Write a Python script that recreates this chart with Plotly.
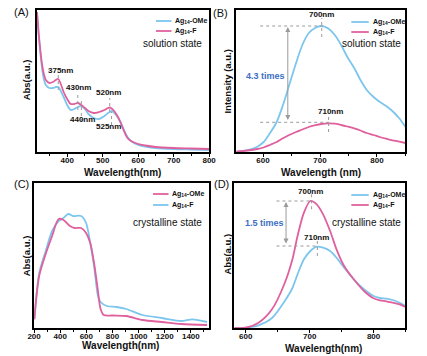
import plotly.graph_objects as go

# ---------------- data ----------------
# Panel A: solution-state absorption
a_wl = [315, 320, 325, 330, 335, 340, 350, 360, 368, 375, 382, 390, 400, 410, 420, 430, 440, 450, 460, 475,
        490, 505, 515, 520, 525, 530, 540, 550, 560, 570, 580, 600, 620, 650, 700, 750, 800]
a_ome = [140, 116, 97, 82, 72, 67, 64, 64, 65, 65, 61, 55, 47, 42, 43, 45, 46, 43, 38, 34,
         33, 36, 39, 40, 41, 40, 36, 30, 22, 15, 11, 7, 5.5, 4, 3, 2.5, 2]
a_f = [140, 118, 100, 86, 77, 72, 69, 70, 72, 73, 68, 60, 53, 48, 48, 49, 47, 44, 41, 39,
       40, 42, 44, 44.5, 43.5, 42, 37, 30, 21, 14, 11, 8, 6.5, 5, 4, 3.5, 3]

# Panel B: solution-state emission
b_wl = [553, 573, 590, 601, 612, 624, 635, 646, 658, 669, 680, 692, 702, 714, 726, 737, 748, 760, 771, 782,
        794, 805, 816, 827, 839, 850]
b_ome = [0.3, 2, 5.3, 10, 18.7, 30, 47, 67, 89, 107, 118.7, 124.3, 126, 123.7, 117, 107, 95, 84, 72, 62,
         55, 50, 46, 41, 33.7, 25]
b_f = [0.3, 1.5, 3, 4.5, 7, 10, 13.7, 17, 20, 22.5, 25, 26.8, 28, 28.7, 28.3, 27, 25.5, 23.7, 21.5, 19,
       17, 15, 13.3, 11.7, 10.3, 9]

# Panel C: crystalline-state absorption
c_wl_ome = [202, 239, 289, 338, 388, 425, 474, 511, 560, 598, 630, 659, 684, 709, 733, 800, 906, 1030, 1178, 1326, 1524]
c_ome = [8.7, 52, 74, 92, 109, 108, 102, 100, 100, 95, 85, 65, 42, 19, 13, 12.5, 12, 8, 6, 4, 3]
c_wl_f = [202, 239, 289, 338, 388, 425, 462, 499, 560, 598, 630, 659, 689, 709, 757, 831, 906, 1030, 1178, 1326, 1412, 1524]
c_f = [8.7, 55, 77, 97, 107, 110, 114, 112, 112, 105, 85, 62, 32, 26, 22, 21, 19, 13, 10, 7, 8.7, 6]

# Panel D: crystalline-state emission
d_wl = [582, 600, 620, 641, 661, 673, 681, 691, 701, 711, 721, 732, 742, 754, 769, 785, 800, 810, 820, 830, 841, 850]
d_ome = [0, 0.3, 2.7, 10, 27, 40, 53.7, 68.7, 77, 81.3, 80.3, 77, 70.3, 60.3, 48.7, 38.7, 32, 30, 29.3, 28, 25.3, 22]
d_f = [0, 0.3, 5.3, 18.7, 45, 68.7, 92, 115.3, 127, 123.7, 113.7, 97, 78.7, 62, 48.7, 37, 29.7, 27.7, 26.7, 25.3, 23.7, 21]

a_ticks = [400, 500, 600, 700, 800]
b_ticks = [600, 700, 800]
c_ticks = [200, 400, 600, 800, 1000, 1200, 1400]
d_ticks = [600, 700, 800]

BLUE = "#7cc6ee"
PINK = "#e0609e"
GREY = "#9a9a9a"
TXT_BLUE = "#3d6fc2"
FONT = "Liberation Sans"

W, H = 427, 356


def px(x):
    return x / W


def py(y):
    return 1 - y / H


fig = go.Figure()


def line(x, y, color, xa, ya):
    fig.add_trace(go.Scatter(x=x, y=y, mode="lines", line=dict(color=color, width=1.8, shape="spline", smoothing=0.8),
                             xaxis=xa, yaxis=ya, showlegend=False, hoverinfo="skip"))


line(a_wl, a_ome, BLUE, "x", "y")
line(a_wl, a_f, PINK, "x", "y")
line(b_wl, b_ome, BLUE, "x2", "y2")
line(b_wl, b_f, PINK, "x2", "y2")
line(c_wl_f, c_f, BLUE, "x3", "y3")
line(c_wl_ome, c_ome, PINK, "x3", "y3")
line(d_wl, d_ome, BLUE, "x4", "y4")
line(d_wl, d_f, PINK, "x4", "y4")

ax_common = dict(showline=True, linecolor="black", linewidth=1.5, mirror=True, showgrid=False, zeroline=False,
                 ticks="outside", ticklen=3, tickwidth=1, tickcolor="black", ticklabelstandoff=-3,
                 tickfont=dict(family=FONT, size=8, color="#111", weight="bold"))
ay_common = dict(showline=True, linecolor="black", linewidth=1.5, mirror=True, showgrid=False, zeroline=False,
                 showticklabels=False, ticks="")

fig.update_layout(
    width=W, height=H, margin=dict(l=0, r=0, t=0, b=0),
    paper_bgcolor="white", plot_bgcolor="white", showlegend=False,
    xaxis=dict(domain=[px(31), px(209)], range=[315, 800], tickvals=a_ticks, anchor="y",
               minor=dict(dtick=50, ticklen=2, ticks="outside", tickcolor="black"), **ax_common),
    yaxis=dict(domain=[py(152), py(10)], range=[0, 142], anchor="x", **ay_common),
    xaxis2=dict(domain=[px(237), px(412)], range=[553, 850], tickvals=b_ticks, anchor="y2",
                minor=dict(dtick=50, ticklen=2, ticks="outside", tickcolor="black"), **ax_common),
    yaxis2=dict(domain=[py(152), py(10)], range=[0, 142], anchor="x2", **ay_common),
    xaxis3=dict(domain=[px(28), px(209)], range=[200, 1540], tickvals=c_ticks, anchor="y3",
                minor=dict(dtick=100, ticklen=2, ticks="outside", tickcolor="black"), **ax_common),
    yaxis3=dict(domain=[py(328), py(183)], range=[0, 145], anchor="x3", **ay_common),
    xaxis4=dict(domain=[px(235), px(412)], range=[582, 850], tickvals=d_ticks, anchor="y4",
                minor=dict(dtick=50, ticklen=2, ticks="outside", tickcolor="black"), **ax_common),
    yaxis4=dict(domain=[py(328), py(183)], range=[0, 145], anchor="x4", **ay_common),
)

shapes = []
annos = []


def ptext(text, x, y, size, bold=False, color="#111", angle=0, xanchor="center"):
    annos.append(dict(text=text, x=px(x), y=py(y), xref="paper", yref="paper", showarrow=False,
                      xanchor=xanchor, yanchor="middle", textangle=angle,
                      font=dict(family=FONT, size=size, color=color, weight="bold" if bold else "normal")))


def dtext(text, x, y, xr, yr, size=8, color="#111", bold=True):
    annos.append(dict(text=text, x=x, y=y, xref=xr, yref=yr, showarrow=False, xanchor="center", yanchor="middle",
                      font=dict(family=FONT, size=size, color=color, weight="bold" if bold else "normal")))


def dash(x0, y0, x1, y1, xr, yr):
    shapes.append(dict(type="line", x0=x0, y0=y0, x1=x1, y1=y1, xref=xr, yref=yr,
                       line=dict(color=GREY, width=1, dash="dot")))


def legend(x0, x1, y1, y2, c1, c2, t1, t2):
    for y, c, t in ((y1, c1, t1), (y2, c2, t2)):
        shapes.append(dict(type="line", x0=px(x0), x1=px(x1), y0=py(y), y1=py(y), xref="paper", yref="paper",
                           line=dict(color=c, width=1.8)))
        ptext(t, x1 + 2, y, 7, bold=True, xanchor="left")


OME = "Ag<sub>14</sub>-OMe"
FL = "Ag<sub>14</sub>-F"

# panel labels
ptext("(A)", 14.5, 12, 11)
ptext("(B)", 220.5, 13, 11)
ptext("(C)", 15, 184, 11)
ptext("(D)", 221.5, 184, 11)

# axis titles
ptext("Wavelength(nm)", 119, 172, 10, bold=True)
ptext("Wavelength (nm)", 325, 172, 10, bold=True)
ptext("Wavelength(nm)", 117, 345, 10, bold=True)
ptext("Wavelength(nm)", 327, 348, 10, bold=True)
ptext("Abs(a.u.)", 20, 80, 9.5, bold=True, angle=-90)
ptext("Intensity (a.u.)", 227, 82, 9.5, bold=True, angle=-90)
ptext("Abs(a.u.)", 20, 256, 9.5, bold=True, angle=-90)
ptext("Abs(a.u.)", 227, 254, 9.5, bold=True, angle=-90)

# legends and state text
legend(154, 170, 21, 31, BLUE, PINK, OME, FL)
legend(356, 374, 22, 32, BLUE, PINK, OME, FL)
legend(151, 167, 194, 205, PINK, BLUE, OME, FL)
legend(356, 374, 195, 205, BLUE, PINK, OME, FL)
ptext("solution state", 204, 44, 10, xanchor="right")
ptext("solution state", 409, 44, 10, xanchor="right")
ptext("crystalline state", 204, 222, 10, xanchor="right")
ptext("crystalline state", 409, 222, 10, xanchor="right")

# panel A peak markers
dash(375, 62, 375, 79, "x", "y")
dash(430, 42, 430, 59, "x", "y")
dash(440, 30, 440, 54, "x", "y")
dash(520, 40, 520, 54, "x", "y")
dash(525, 27, 525, 40, "x", "y")
dtext("375nm", 380, 81, "x", "y")
dtext("430nm", 432, 64, "x", "y")
dtext("440nm", 442, 32, "x", "y")
dtext("520nm", 517, 59, "x", "y")
dtext("525nm", 517, 25, "x", "y")

# panel B
dash(595, 126, 706, 126, "x2", "y2")
dash(703, 115, 703, 134, "x2", "y2")
dash(595, 29.7, 717, 29.7, "x2", "y2")
dash(715, 20, 715, 37, "x2", "y2")
dtext("700nm", 703, 137, "x2", "y2")
dtext("710nm", 719, 40.5, "x2", "y2")
annos.append(dict(x=643.5, y=125, ax=643.5, ay=30.5, xref="x2", yref="y2", axref="x2", ayref="y2", text="",
                  showarrow=True, arrowhead=2, startarrowhead=2, arrowside="end+start", arrowsize=1,
                  arrowwidth=1, arrowcolor=GREY))
dtext("4.3 times", 604, 76, "x2", "y2", size=9, color=TXT_BLUE)

# panel D
dash(648, 127, 703, 127, "x4", "y4")
dash(703, 118.7, 703, 133.7, "x4", "y4")
dash(648, 82, 713, 82, "x4", "y4")
dash(712, 72, 712, 88.7, "x4", "y4")
dtext("700nm", 702, 137, "x4", "y4")
dtext("710nm", 711, 90.5, "x4", "y4")
annos.append(dict(x=663, y=126, ax=663, ay=83, xref="x4", yref="y4", axref="x4", ayref="y4", text="",
                  showarrow=True, arrowhead=2, startarrowhead=2, arrowside="end+start", arrowsize=1,
                  arrowwidth=1, arrowcolor=GREY))
dtext("1.5 times", 629, 105.3, "x4", "y4", size=9, color=TXT_BLUE)

fig.update_layout(shapes=shapes, annotations=annos)
fig.write_html("out.html", config={"displayModeBar": False},
               post_script="document.body.style.margin='0';document.body.style.padding='0';"
                           "document.documentElement.style.overflow='hidden';")
